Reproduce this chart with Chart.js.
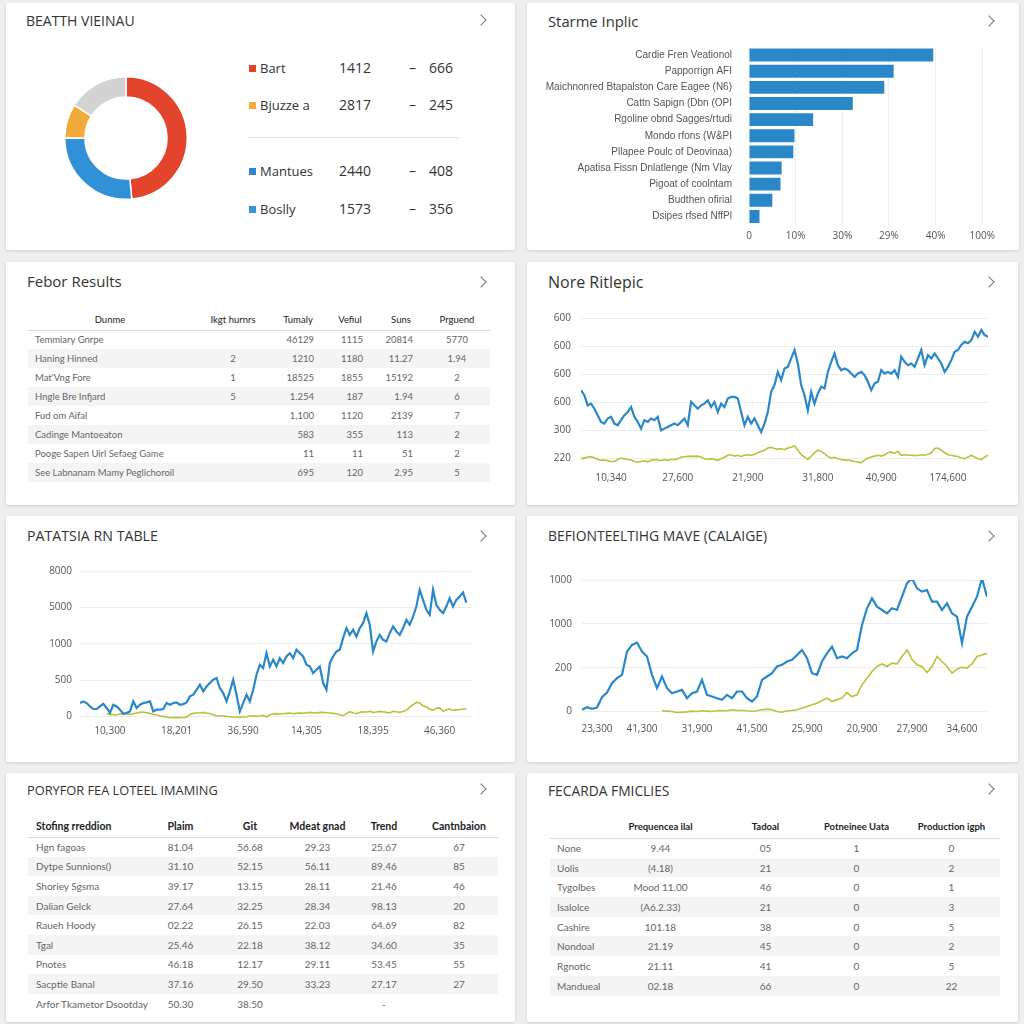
<!DOCTYPE html>
<html>
<head>
<meta charset="utf-8">
<script src="https://cdn.jsdelivr.net/npm/chart.js@4.4.1/dist/chart.umd.min.js"></script>
<style>
body { margin:0; background:#eeeeee; font-family:"Open Sans", sans-serif; }
#page { position:relative; width:1024px; height:1024px; overflow:hidden; }
.card { position:absolute; background:#fff; box-shadow:0 1px 3px rgba(0,0,0,0.14); border-radius:2px; }
.title { position:absolute; color:#333; white-space:nowrap; line-height:1; }
.chev { position:absolute; width:7px; height:7px; border-top:1.5px solid #777; border-right:1.5px solid #777; transform:rotate(45deg); }
canvas { position:absolute; }
.lg { position:absolute; height:20px; line-height:20px; color:#333; white-space:nowrap; }
.sq { position:absolute; width:7px; height:7px; }
table { position:absolute; border-collapse:collapse; table-layout:fixed; font-family:Lato, sans-serif; }
td, th { padding:0; white-space:nowrap; overflow:visible; }
th { border-bottom:1.5px solid #ddd; color:#222; }
td { color:#666; font-size:10px; }
tr.odd td { background:#f4f4f4; }
</style>
</head>
<body>
<div id="page">
  <div class="card" style="left:6px;top:3px;width:509px;height:247px"></div>
  <div class="card" style="left:527px;top:3px;width:492px;height:247px"></div>
  <div class="card" style="left:6px;top:262px;width:509px;height:243px"></div>
  <div class="card" style="left:527px;top:262px;width:491px;height:243px"></div>
  <div class="card" style="left:6px;top:516px;width:509px;height:246px"></div>
  <div class="card" style="left:527px;top:516px;width:491px;height:246px"></div>
  <div class="card" style="left:6px;top:773px;width:509px;height:249px"></div>
  <div class="card" style="left:527px;top:773px;width:491px;height:249px"></div>

  <div class="title" style="left:26px;top:14px;font-size:14px">BEATTH VIEINAU</div>
  <div class="title" style="left:548px;top:14px;font-size:14.8px">Starme Inplic</div>
  <div class="title" style="left:27px;top:274px;font-size:15px">Febor Results</div>
  <div class="title" style="left:548px;top:274px;font-size:16px">Nore Ritlepic</div>
  <div class="title" style="left:27px;top:529px;font-size:14.2px">PATATSIA RN TABLE</div>
  <div class="title" style="left:548px;top:529px;font-size:13.9px">BEFIONTEELTIHG MAVE (CALAIGE)</div>
  <div class="title" style="left:27px;top:784px;font-size:12.8px">PORYFOR FEA LOTEEL IMAMING</div>
  <div class="title" style="left:548px;top:784px;font-size:13.8px">FECARDA FMICLIES</div>

  <div class="chev" style="left:477px;top:16px"></div>
  <div class="chev" style="left:985px;top:17px"></div>
  <div class="chev" style="left:477px;top:278px"></div>
  <div class="chev" style="left:985px;top:278px"></div>
  <div class="chev" style="left:477px;top:532px"></div>
  <div class="chev" style="left:985px;top:532px"></div>
  <div class="chev" style="left:477px;top:785px"></div>
  <div class="chev" style="left:985px;top:785px"></div>

  <div id="legend"></div>
  <div style="position:absolute;left:247px;top:137px;width:213px;height:1px;background:#e6e6e6"></div>

  <canvas id="donut" width="124" height="124" style="left:64px;top:76px"></canvas>
  <canvas id="bars" width="471" height="226" style="left:530px;top:24px"></canvas>
  <canvas id="line1" width="475" height="186" style="left:521px;top:302px"></canvas>
  <canvas id="line2" width="470" height="188" style="left:10px;top:557px"></canvas>
  <canvas id="line3" width="465" height="174" style="left:527px;top:564px"></canvas>

  <table id="tab1" style="left:28px;top:310px"></table>
  <table id="tab2" style="left:28px;top:815px"></table>
  <table id="tab3" style="left:550px;top:815px"></table>
</div>

<script>
// ---- donut (card 1)
var donutSlices = ['Bart', 'Mantues', 'Bjuzze a', 'Boslly'];
var donutValues = [48.5, 26.5, 9, 16];
var donutColors = ['#e2452b', '#3191d6', '#f2aa3a', '#d3d3d3'];

var legendNames = ['Bart', 'Bjuzze a', 'Mantues', 'Boslly'];
var legendValues = ['1412', '2817', '2440', '1573'];
var legendDiffs = ['666', '245', '408', '356'];
var legendColors = ['#e2452b', '#f2aa3a', '#2f86c8', '#3a95d6'];

// ---- horizontal bars (card 2)
var barLabels = ['Cardie Fren Veationol', 'Papporrign AFI', 'Maichnonred Btapalston Care Eagee (N6)',
  'Cattn Sapign (Dbn (OPI', 'Rgoline obnd Sagges/rtudi', 'Mondo rfons (W&PI', 'Pllapee Poulc of Deovinaa)',
  'Apatisa Fissn Dnlatlenge (Nm Vlay', 'Pigoat of coolntam', 'Budthen ofirial', 'Dsipes rfsed NffPl'];
var barValues = [79, 62, 58, 44.5, 27.5, 19.5, 19, 14, 13.5, 10, 4.5];
var barTickLabels = ['0', '10%', '30%', '29%', '40%', '100%'];

// ---- line chart "Nore Ritlepic" (card 4)
var l1Blue = [443,425,389,395,377,354,330,324,342,348,324,318,336,354,365,383,348,330,306,336,
  330,342,336,348,300,306,312,318,324,318,330,342,318,401,389,377,389,395,407,383,
  401,365,395,383,413,419,419,413,365,318,348,324,342,318,294,324,365,437,461,508,
  479,520,526,556,586,538,461,425,371,437,395,431,455,449,508,544,574,532,514,520,
  514,502,490,502,508,496,473,443,467,473,514,502,508,502,514,490,562,544,532,538,
  526,556,586,532,568,556,574,556,538,508,526,550,580,586,604,615,610,621,651,633,
  657,639,633];
var l1Yellow = [199,201,205,206,202,196,193,194,192,189,189,196,201,199,196,194,189,187,189,192,
  187,193,196,194,192,195,193,196,196,199,205,206,207,208,207,208,205,199,196,199,
  196,193,199,204,211,213,208,211,207,211,213,211,214,220,225,229,237,239,235,232,
  235,231,237,240,244,229,213,205,196,208,220,229,225,217,207,201,204,199,196,193,
  194,192,189,187,185,194,201,205,208,211,208,213,220,223,218,225,211,213,211,211,
  210,211,213,211,215,220,235,237,229,220,213,211,208,207,201,199,205,211,205,199,
  196,205,211];
var l1YLabels = ['220', '300', '600', '600', '600', '600'];
var l1XLabels = ['10,340', '27,600', '21,900', '31,800', '40,900', '174,600'];

// ---- line chart "PATATSIA RN TABLE" (card 5)
var l2Blue = [183,206,183,137,101,101,137,174,115,46,160,137,92,37,46,69,206,115,160,183,
  192,206,69,92,92,101,183,160,183,192,160,169,192,275,298,366,435,344,412,458,
  504,527,389,321,206,344,504,298,69,183,298,206,366,573,710,664,870,687,779,687,
  802,733,824,870,802,916,870,824,710,687,595,641,687,458,366,733,824,893,916,1076,
  1214,1122,1191,1099,1214,1282,1420,1260,893,1031,1122,1053,1031,1145,1237,1168,1122,1214,1328,1260,
  1374,1511,1740,1603,1466,1397,1740,1534,1466,1420,1511,1626,1511,1603,1649,1704,1566];
var l2Yellow = [null,null,null,null,null,null,null,null,37,27,23,23,32,32,37,27,37,46,55,60,
  50,41,27,23,5,0,-9,-18,-18,-14,-18,-14,-14,27,41,46,46,55,46,37,
  23,9,9,5,0,-5,-9,-9,-14,-9,-5,5,9,0,5,14,-9,23,32,37,
  32,37,41,46,37,41,46,41,50,55,50,46,55,55,50,46,41,37,23,9,
  37,64,46,37,55,64,60,69,55,60,69,64,55,46,69,64,55,69,82,128,
  160,192,183,147,128,101,82,110,119,69,92,101,82,92,92,101,101];
var l2YLabels = ['0', '500', '1000', '5000', '8000'];
var l2XLabels = ['10,300', '18,201', '36,590', '14,305', '18,395', '46,360'];

// ---- line chart "BEFIONTEELTIHG MAVE" (card 6)
var l3Blue = [19,49,30,46,163,216,323,380,418,683,759,786,683,627,418,266,399,266,209,228,
  247,152,209,228,361,190,171,152,133,190,152,228,228,152,114,171,361,399,437,513,
  532,570,589,645,702,608,437,418,570,664,740,608,627,608,664,702,987,1177,1291,1196,
  1158,1120,1177,1158,1310,1462,1519,1405,1367,1386,1253,1253,1158,1234,1120,1082,778,1082,1196,1310,
  1519,1310];
var l3Yellow = [null,null,null,null,null,null,null,null,null,null,null,null,null,null,null,null,8,4,0,-11,
  -8,-4,4,0,8,4,0,8,11,8,19,11,11,8,0,8,19,27,19,0,
  -8,8,11,19,38,57,76,95,125,152,114,133,152,216,171,190,304,380,456,513,
  543,513,551,543,627,702,596,532,513,444,513,627,570,513,437,482,505,494,543,627,
  645,664];
var l3YLabels = ['0', '200', '1000', '1000'];
var l3XLabels = ['23,300', '41,300', '31,900', '41,500', '25,900', '20,900', '27,900', '34,600'];

// ---- tables
var t1Head = ['Dunme', 'Ikgt hurnrs', 'Tumaly', 'Vefiul', 'Suns', 'Prguend'];
var t1Rows = [
  ['Temmiary Gnrpe', '', '46129', '1115', '20814', '5770'],
  ['Haning Hinned', '2', '1210', '1180', '11.27', '1.94'],
  ['Mat\'Vng Fore', '1', '18525', '1855', '15192', '2'],
  ['Hngle Bre Infjard', '5', '1.254', '187', '1.94', '6'],
  ['Fud om Aifal', '', '1,100', '1120', '2139', '7'],
  ['Cadinge Mantoeaton', '', '583', '355', '113', '2'],
  ['Pooge Sapen Uirl Sefaeg Game', '', '11', '11', '51', '2'],
  ['See Labnanam Mamy Peglichoroil', '', '695', '120', '2.95', '5']
];
var t2Head = ['Stofing rreddion', 'Plaim', 'Git', 'Mdeat gnad', 'Trend', 'Cantnbaion'];
var t2Rows = [
  ['Hgn fagoas', '81.04', '56.68', '29.23', '25.67', '67'],
  ['Dytpe Sunnions()', '31.10', '52.15', '56.11', '89.46', '85'],
  ['Shoriey Sgsma', '39.17', '13.15', '28.11', '21.46', '46'],
  ['Dalian Gelck', '27.64', '32.25', '28.34', '98.13', '20'],
  ['Raueh Hoody', '02.22', '26.15', '22.03', '64.69', '82'],
  ['Tgal', '25.46', '22.18', '38.12', '34.60', '35'],
  ['Pnotes', '46.18', '12.17', '29.11', '53.45', '55'],
  ['Sacptie Banal', '37.16', '29.50', '33.23', '27.17', '27'],
  ['Arfor Tkametor Dsootday', '50.30', '38.50', '', '-', '']
];
var t3Head = ['', 'Prequencea ilal', 'Tadoal', 'Potneinee Uata', 'Production igph'];
var t3Rows = [
  ['None', '9.44', '05', '1', '0'],
  ['Uolis', '(4.18)', '21', '0', '2'],
  ['Tygolbes', 'Mood 11.00', '46', '0', '1'],
  ['Isalolce', '(A6.2.33)', '21', '0', '3'],
  ['Cashire', '101.18', '38', '0', '5'],
  ['Nondoal', '21.19', '45', '0', '2'],
  ['Rgnotic', '21.11', '41', '0', '5'],
  ['Mandueal', '02.18', '66', '0', '22']
];

var BLUE = '#2b88c8';
var OLIVE = '#b9c23c';
var TICK = '#555';

Chart.defaults.animation = false;
Chart.defaults.font.family = 'Open Sans';
Chart.defaults.plugins.legend.display = false;
Chart.defaults.plugins.tooltip.enabled = false;

// legend rows of card 1
var legendY = [68, 105, 171, 209];
var lg = '';
for (var i = 0; i < legendNames.length; i++) {
  var y = legendY[i];
  lg += '<div class="sq" style="left:249px;top:' + (y - 3.5) + 'px;background:' + legendColors[i] + '"></div>';
  lg += '<div class="lg" style="left:260px;top:' + (y - 10) + 'px;font-size:13px">' + legendNames[i] + '</div>';
  lg += '<div class="lg" style="left:339px;top:' + (y - 10) + 'px;font-size:14px">' + legendValues[i] + '</div>';
  lg += '<div class="lg" style="left:409px;top:' + (y - 10) + 'px;font-size:14px">&ndash;</div>';
  lg += '<div class="lg" style="left:429px;top:' + (y - 10) + 'px;font-size:14px">' + legendDiffs[i] + '</div>';
}
document.getElementById('legend').innerHTML = lg;

new Chart(document.getElementById('donut'), {
  type: 'doughnut',
  data: { labels: donutSlices, datasets: [{ data: donutValues, backgroundColor: donutColors, borderColor: '#fff', borderWidth: 1.5 }] },
  options: { responsive: false, cutout: '67%' }
});

// note: category tick padding also pads the top of the chart area (label half height + padding)
new Chart(document.getElementById('bars'), {
  type: 'bar',
  data: { labels: barLabels, datasets: [{ data: barValues, backgroundColor: BLUE, barPercentage: 0.8, categoryPercentage: 1 }] },
  options: {
    responsive: false,
    indexAxis: 'y',
    layout: { padding: { top: 7, right: 16, left: 0, bottom: 0 } },
    scales: {
      x: {
        min: 0, max: 100,
        afterBuildTicks: function (a) { a.ticks = [0, 20, 40, 60, 80, 100].map(function (v) { return { value: v }; }); },
        afterFit: function (s) { s.height = 25.5; },
        ticks: { callback: function (v, i) { return barTickLabels[i]; }, color: TICK, font: { size: 10 }, padding: 6, maxRotation: 0 },
        grid: { color: '#eeeeee', drawTicks: false },
        border: { display: false }
      },
      y: {
        afterFit: function (s) { s.width = 219; },
        ticks: { color: TICK, font: { size: 10, family: 'Liberation Sans' }, padding: 17, autoSkip: false },
        grid: { display: false, drawTicks: false },
        border: { display: false }
      }
    }
  }
});

function lineChart(id, blue, yellow, yMin, yMax, yAt, yLabels, xMax, xAt, xLabels, g) {
  return new Chart(document.getElementById(id), {
    type: 'line',
    data: {
      labels: blue.map(function (v, i) { return i; }),
      datasets: [
        { data: blue, borderColor: BLUE, borderWidth: 2.2, pointRadius: 0, tension: 0 },
        { data: yellow, borderColor: OLIVE, borderWidth: 1.6, pointRadius: 0, tension: 0 }
      ]
    },
    options: {
      responsive: false,
      layout: { padding: { top: 0, right: g.right, left: 0, bottom: 0 } },
      scales: {
        x: {
          type: 'linear', min: 0, max: xMax,
          afterBuildTicks: function (a) { a.ticks = xAt.map(function (v) { return { value: v }; }); },
          afterFit: function (s) { s.height = g.xh; },
          ticks: { callback: function (v, i) { return xLabels[i]; }, color: TICK, font: { size: 10 }, padding: g.xp, maxRotation: 0, autoSkip: false },
          grid: { display: false, drawTicks: false },
          border: { display: false }
        },
        y: {
          min: yMin, max: yMax,
          afterBuildTicks: function (a) { a.ticks = yAt.map(function (v) { return { value: v }; }); },
          afterFit: function (s) { s.width = g.yw; },
          ticks: { callback: function (v, i) { return yLabels[i]; }, color: TICK, font: { size: 10 }, padding: g.yp },
          grid: { color: '#ececec', drawTicks: false },
          border: { display: false }
        }
      }
    }
  });
}

lineChart('line1', l1Blue, l1Yellow, 180, 700, [200, 300, 400, 500, 600, 700], l1YLabels,
  122, [9, 29, 50, 71, 90, 110], l1XLabels, { right: 8, xh: 24, xp: 8, yw: 60, yp: 10 });
lineChart('line2', l2Blue, l2Yellow, -50, 2000, [0, 500, 1000, 1500, 2000], l2YLabels,
  118, [9, 29, 49, 68, 88, 108], l2XLabels, { right: 7, xh: 25, xp: 5, yw: 70, yp: 8 });
lineChart('line3', l3Blue, l3Yellow, -40, 1500, [0, 500, 1000, 1500], l3YLabels,
  81, [3, 12, 23, 34, 45, 56, 66, 76], l3XLabels, { right: 5, xh: 23, xp: 8, yw: 55, yp: 10 });

// tables
function makeTable(id, widths, headAlign, cellAlign, pads, head, rows, headH, rowH, headFont, cellFont) {
  var html = '<colgroup>';
  widths.forEach(function (w) { html += '<col style="width:' + w + 'px">'; });
  html += '</colgroup><tr style="height:' + headH + 'px">';
  head.forEach(function (h, j) {
    var p = headAlign[j] == 'left' ? 'padding-left:' + pads[j] + 'px;' : '';
    html += '<th style="text-align:' + headAlign[j] + ';' + p + headFont + '">' + h + '</th>';
  });
  html += '</tr>';
  rows.forEach(function (r, k) {
    html += '<tr style="height:' + rowH + 'px"' + (k % 2 == 1 ? ' class="odd"' : '') + '>';
    r.forEach(function (c, j) {
      var p = '';
      if (cellAlign[j] == 'left') p = 'padding-left:' + pads[j] + 'px;';
      if (cellAlign[j] == 'right') p = 'padding-right:' + pads[j] + 'px;';
      html += '<td style="text-align:' + cellAlign[j] + ';' + p + cellFont + '">' + c + '</td>';
    });
    html += '</tr>';
  });
  document.getElementById(id).innerHTML = html;
}

makeTable('tab1', [164, 82, 48, 56, 46, 66],
  ['center', 'center', 'center', 'center', 'center', 'center'],
  ['left', 'center', 'right', 'right', 'right', 'center'],
  [7, 0, 8, 15, 11, 0], t1Head, t1Rows, 20, 19, 'font-size:9.5px;font-weight:normal;', 'font-size:9.5px;');
makeTable('tab2', [112, 65, 74, 61, 72, 78],
  ['left', 'center', 'center', 'center', 'center', 'center'],
  ['left', 'center', 'center', 'center', 'center', 'center'],
  [8, 0, 0, 0, 0, 0], t2Head, t2Rows, 22, 19.6, 'font-size:10.5px;font-weight:bold;', 'font-size:10px;');
makeTable('tab3', [50, 120, 90, 92, 98],
  ['center', 'center', 'center', 'center', 'center'],
  ['left', 'center', 'center', 'center', 'center'],
  [7, 0, 0, 0, 0], t3Head, t3Rows, 23, 19.7, 'font-size:9.5px;font-weight:bold;', 'font-size:10px;');
</script>
</body>
</html>
